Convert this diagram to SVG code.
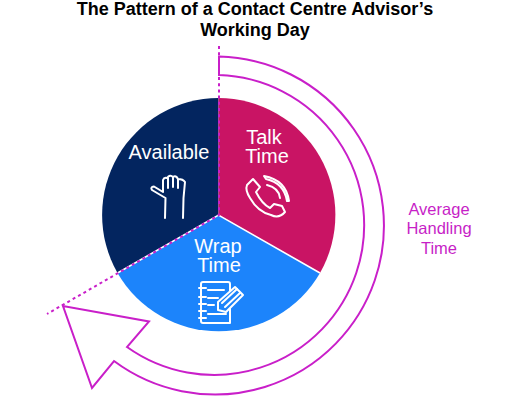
<svg xmlns="http://www.w3.org/2000/svg" width="510" height="400" viewBox="0 0 510 400">
<style>
.t{font-family:"Liberation Sans",Arial,sans-serif}
.title{font-size:18px;font-weight:700;fill:#000;text-anchor:middle}
.lab{font-size:20px;fill:#fff;text-anchor:middle}
.side{font-size:16.500px;fill:#c71fc7;text-anchor:middle}
.ic{fill:none;stroke:#fff;stroke-width:2;stroke-linecap:round;stroke-linejoin:round}
.dot{fill:none;stroke:#c91fc9;stroke-width:2;stroke-dasharray:3 3.2}
</style>
<g id="title"><text class="t title"><tspan x="255" y="15">The Pattern of a Contact Centre Advisor’s</tspan><tspan x="255" y="36">Working Day</tspan></text></g>
<g id="available"><path d="M218.500 215L117.500 273A117 117 0 0 1 218.500 98Z" fill="#03255f"/><text class="t lab" x="169" y="159">Available</text>
<path class="ic" d="M165 218L165.500 198L152 190Q150 187 154 186.500L163 192L163 180Q164 177 167 178Q170 174 173 177Q176 175 178 179Q183 179 185 182L183.500 198L183 218M168 178L168 188M173 177L173 187M178 179L178 188"/></g>
<g id="talk"><path d="M218.500 215L218.500 98A117 117 0 0 1 320 273Z" fill="#c91464"/><text class="t lab"><tspan x="264" y="144">Talk</tspan><tspan x="267" y="163">Time</tspan></text>
<path class="ic" d="M253 179L247 185Q245 190 250 198Q258 212 271 215Q279 219 285 212L282 206L274 204L270 208Q262 204 256 192L260 187Z"/>
<path class="ic" d="M264 176Q286 180 289 201L287 201Q284 183 266 179ZM267 185Q279 188 280 198"/></g>
<g id="wrap"><path d="M218.500 215L320 273A117 117 0 0 1 117.500 273Z" fill="#1c84fb"/>
<path d="M117.500 273L218.500 215L320 273" fill="none" stroke="#fff" stroke-width="1.500"/>
<text class="t lab"><tspan x="218" y="253">Wrap</tspan><tspan x="219" y="272">Time</tspan></text>
<path class="ic" d="M203 282H228Q230 282 230 284V323H203Q201 323 201 321V284Q201 282 203 282Z"/>
<path class="ic" d="M199 288H206M199 297H206M199 304H206M199 311H206M199 318H206M208 290H224M208 298H218M208 305H214M208 314H226"/>
<path d="M218 302L235 287L243 295L226 312L218 310Z" fill="#1c84fb" stroke="#fff" stroke-width="2" stroke-linejoin="round"/>
<path class="ic" d="M222 303L237 289M225 307L240 293"/></g>
<g id="connectors">
<path class="dot" d="M219 46V215L47 314"/>
<path d="M219 56.500A169 169 0 1 1 114 361L92 388L63 306L149 321.500L127 347A150 150 0 1 0 219 75Z" fill="none" stroke="#c91fc9" stroke-width="2"/>
</g>
<g id="aht"><text class="t side"><tspan x="439" y="215">Average</tspan><tspan x="439" y="234">Handling</tspan><tspan x="439" y="254">Time</tspan></text></g>
</svg>
